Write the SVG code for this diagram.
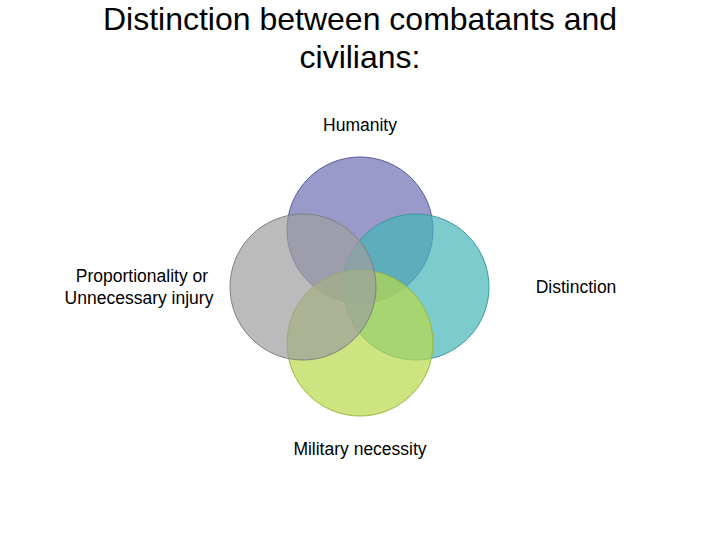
<svg xmlns="http://www.w3.org/2000/svg" width="720" height="540" viewBox="0 0 720 540">
<style>
text{font-family:"Liberation Sans",Arial,sans-serif;fill:#000}
.t{font-size:32px}
.l{font-size:17.5px}
.c{stroke-width:1;fill-opacity:0.7}
</style>
<rect width="720" height="540" fill="#fff"/>
<text class="t" x="360" y="30" text-anchor="middle">Distinction between combatants and</text>
<text class="t" x="360" y="68" text-anchor="middle">civilians:</text>
<g id="humanity"><circle class="c" cx="360" cy="230" r="73" fill="#6e6eb4" stroke="#5a5a9a"/><text class="l" x="360" y="131" text-anchor="middle">Humanity</text></g>
<g id="distinction"><circle class="c" cx="416" cy="287" r="73" fill="#45b5b8" stroke="#3a9a9c"/><text class="l" x="576" y="293" text-anchor="middle">Distinction</text></g>
<g id="necessity"><circle class="c" cx="360" cy="343" r="73" fill="#b8d94a" stroke="#9ab83a"/><text class="l" x="360" y="455" text-anchor="middle">Military necessity</text></g>
<g id="proportionality"><circle class="c" cx="303" cy="287" r="73" fill="#9e9e9e" stroke="#808080"/><text class="l" x="142" y="282" text-anchor="middle">Proportionality or</text><text class="l" x="139" y="304" text-anchor="middle">Unnecessary injury</text></g>
<g id="connectors"></g>
</svg>
